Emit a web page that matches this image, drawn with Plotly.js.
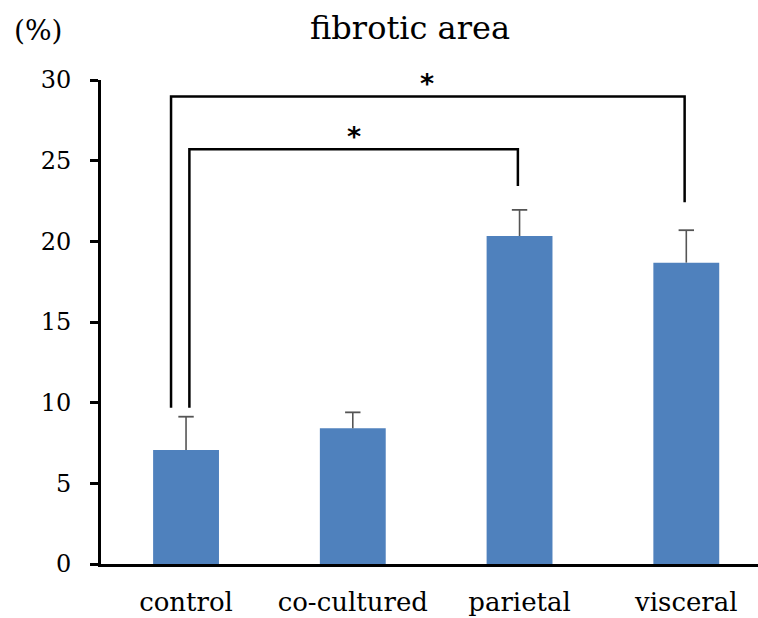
<!DOCTYPE html>
<html>
<head>
<meta charset="utf-8">
<script src="https://cdn.plot.ly/plotly-3.0.1.min.js"></script>
<style>html,body{margin:0;padding:0;background:#fff;}#chart{width:758px;height:618px;}</style>
</head>
<body>
<div id="chart"></div>
<script>
const categories = ["control", "co-cultured", "parietal", "visceral"];
const means = [7.07, 8.41, 20.33, 18.68];
const errTops = [9.13, 9.40, 21.95, 20.69];
const yTicks = [0, 5, 10, 15, 20, 25, 30];

// significance brackets (x in category index units, y in %)
const bracketX0 = [-0.09, 0.02];
const bracketX1 = [2.99, 1.99];
const bracketY = [28.97, 25.71];
const bracketLeftEnd = [9.69, 9.69];
const bracketRightEnd = [22.42, 23.43];
const starX = [1.444, 1.008];
const starY = [28.7, 25.4];
const starText = ["*", "*"];

const xIdx = categories.map((c, i) => i);

const traces = [{
  type: "bar",
  x: xIdx,
  y: means,
  width: 0.395,
  marker: {color: "#4F81BD", line: {width: 0}},
  hoverinfo: "skip",
  showlegend: false
}];

// upper error bars: stems + caps
const stemX = [], stemY = [];
xIdx.forEach((x, i) => { stemX.push(x, x, null); stemY.push(means[i], errTops[i], null); });
traces.push({
  type: "scatter", mode: "lines", x: stemX, y: stemY,
  line: {color: "#555555", width: 1.6}, hoverinfo: "skip", showlegend: false
});
traces.push({
  type: "scatter", mode: "markers", x: xIdx, y: errTops,
  marker: {symbol: "line-ew", size: 11, line: {color: "#555555", width: 1.8}},
  hoverinfo: "skip", showlegend: false
});

bracketY.forEach((y, i) => {
  traces.push({
    type: "scatter", mode: "lines",
    x: [bracketX0[i], bracketX0[i], bracketX1[i], bracketX1[i]],
    y: [bracketLeftEnd[i], y, y, bracketRightEnd[i]],
    line: {color: "#000", width: 2.5},
    hoverinfo: "skip", showlegend: false, cliponaxis: false
  });
});

const annotations = starX.map((x, i) => ({
  x: x, y: starY[i], xref: "x", yref: "y", text: starText[i], showarrow: false,
  font: {family: "DejaVu Sans", size: 27, color: "#000", weight: "bold"},
  yanchor: "bottom"
}));

const paperW = 758 - 101, paperH = 564 - 80;
annotations.push({
  x: (38 - 101) / paperW, y: (564 - 30) / paperH, xref: "paper", yref: "paper",
  text: "(%)", showarrow: false,
  font: {family: "DejaVu Serif", size: 28, color: "#000"}, xanchor: "center", yanchor: "middle"
});

const layout = {
  width: 758, height: 618,
  margin: {l: 101, r: 0, t: 80, b: 54, pad: 0},
  paper_bgcolor: "#fff", plot_bgcolor: "#fff",
  title: {text: "fibrotic area", font: {family: "DejaVu Serif", size: 32, color: "#000"},
          xref: "container", x: 410 / 758, xanchor: "center",
          yref: "container", y: 1 - 28 / 618, yanchor: "middle"},
  xaxis: {
    type: "linear", range: [-0.51, 3.43],
    tickvals: xIdx, ticktext: categories,
    showgrid: false, zeroline: false,
    showline: true, linecolor: "#000", linewidth: 3,
    ticks: "", ticklabelstandoff: 13,
    tickfont: {family: "DejaVu Serif", size: 26, color: "#000"},
    fixedrange: true
  },
  yaxis: {
    range: [0, 30], tickvals: yTicks, ticktext: yTicks.map(String),
    showgrid: false, zeroline: false,
    showline: true, linecolor: "#000", linewidth: 3,
    ticks: "outside", ticklen: 8, tickwidth: 3, tickcolor: "#000",
    ticklabelstandoff: 14,
    tickfont: {family: "DejaVu Serif", size: 24, color: "#000"},
    fixedrange: true
  },
  annotations: annotations,
  showlegend: false
};

Plotly.newPlot("chart", traces, layout, {displayModeBar: false, staticPlot: true});
</script>
</body>
</html>
